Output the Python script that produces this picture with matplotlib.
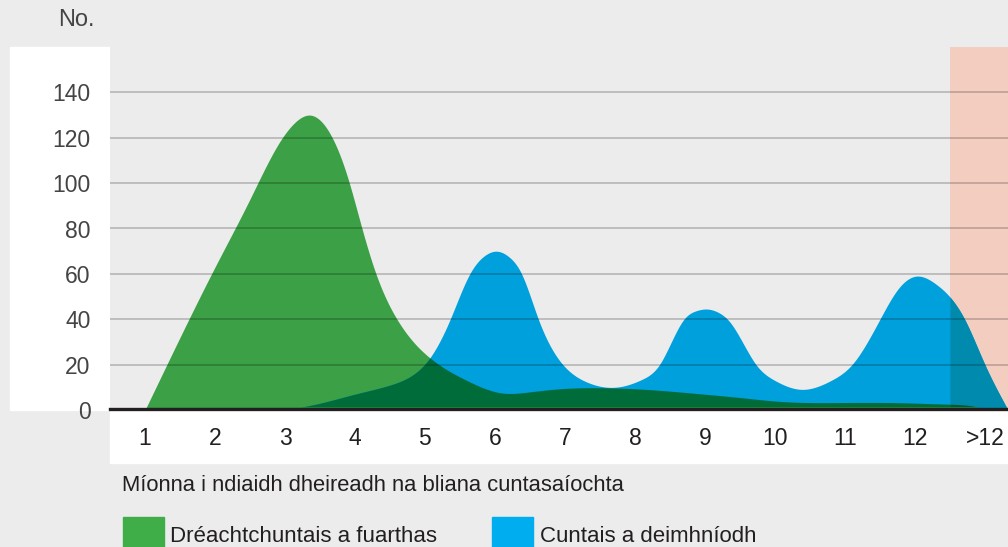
import matplotlib.pyplot as plt
from matplotlib.patches import Rectangle
import numpy as np

# values (month, count)
green_months = [1.0, 1.5, 2.0, 2.5, 2.9, 3.15, 3.35, 3.6, 3.9, 4.1, 4.3, 4.6,
                5.07, 5.6, 6.1, 6.5, 7.0, 7.5, 8.2, 8.8, 9.5, 10.07, 11.0, 11.8,
                12.45, 12.85, 13.05]
green_vals = [0, 32, 63, 93, 117, 127, 130, 124, 102, 80, 60, 40,
              23, 13, 7.5, 8, 9.5, 9.8, 9, 7.5, 5.5, 3.8, 3.3, 3.2,
              2.6, 1.6, 0]

blue_months = [3.0, 3.5, 4.0, 4.5, 4.8, 5.07, 5.36, 5.64, 5.85, 6.02, 6.2, 6.38,
               6.62, 6.97, 7.3, 7.7, 8.1, 8.35, 8.7, 8.88, 9.03, 9.18, 9.35, 9.73,
               10.0, 10.38, 10.8, 11.1, 11.5, 11.75, 12.02, 12.3, 12.45, 12.71,
               13.0, 13.33]
blue_vals = [0, 3, 7, 11, 15, 23, 40, 60, 68, 70, 67.5, 60,
             40, 20, 12.5, 10, 13.5, 20, 40, 43.8, 44.5, 43.2, 39, 20,
             13, 9.1, 13, 20, 40, 53, 59, 55.5, 51.5, 40,
             20, 0]

tick_pos = list(range(1, 14))
tick_labels = [str(i) for i in range(1, 13)] + ['>12']
yticks = [0, 20, 40, 60, 80, 100, 120, 140]

bg = '#ececec'
green = '#3ca046'
blue = '#00a0dc'
dark = '#006c3a'
pink = '#f3cec0'


def spline(xk, yk, x):
    # natural cubic spline through the read points
    xk = np.asarray(xk, float)
    yk = np.asarray(yk, float)
    n = len(xk)
    h = np.diff(xk)
    A = np.zeros((n, n))
    r = np.zeros(n)
    A[0, 0] = A[-1, -1] = 1
    for i in range(1, n - 1):
        A[i, i - 1] = h[i - 1]
        A[i, i] = 2 * (h[i - 1] + h[i])
        A[i, i + 1] = h[i]
        r[i] = 3 * ((yk[i + 1] - yk[i]) / h[i] - (yk[i] - yk[i - 1]) / h[i - 1])
    c = np.linalg.solve(A, r)
    b = np.diff(yk) / h - h * (2 * c[:-1] + c[1:]) / 3
    d = np.diff(c) / (3 * h)
    out = np.zeros_like(x)
    inside = (x >= xk[0]) & (x <= xk[-1])
    xi = x[inside]
    i = np.clip(np.searchsorted(xk, xi) - 1, 0, n - 2)
    dx = xi - xk[i]
    out[inside] = yk[i] + b[i] * dx + c[i] * dx**2 + d[i] * dx**3
    return np.maximum(out, 0)


xs = np.sort(np.append(np.linspace(0.5, 13.33, 2000), 12.5))
g = spline(green_months, green_vals, xs)
b = spline(blue_months, blue_vals, xs)
both = np.minimum(g, b)

plt.rcParams['font.family'] = ['Liberation Sans', 'DejaVu Sans']

fig = plt.figure(figsize=(10.08, 5.47), dpi=100, facecolor=bg)
W, H = 1008, 547


def fx(px):
    return px / W


def fy(py):
    return (H - py) / H


# white strips behind tick labels
fig.add_artist(Rectangle((fx(10), fy(410)), fx(100), fy(47) - fy(410),
                         transform=fig.transFigure, color='white', zorder=-5))
fig.add_artist(Rectangle((fx(110), fy(463)), fx(898), fy(410) - fy(463),
                         transform=fig.transFigure, color='white', zorder=-5))

ax = fig.add_axes([fx(110), fy(410), 1 - fx(110), fy(47) - fy(410)])
ax.set_facecolor(bg)
ax.set_xlim(0.5, 13.33)
ax.set_ylim(0, 160)

ax.axvspan(12.5, 13.4, color=pink, lw=0, zorder=0.5)
ax.fill_between(xs, 0, g, color=green, lw=0, zorder=2)
ax.fill_between(xs, 0, b, color=blue, lw=0, zorder=3)
ax.fill_between(xs, 0, both, color=dark, lw=0, zorder=4)
right = xs >= 12.5
ax.fill_between(xs, 0, b, where=right, color='#008bae', lw=0, zorder=5)
ax.fill_between(xs, 0, both, where=right, color='#005a33', lw=0, zorder=6)
base = (xs >= 1.05) & (xs <= 12.9)
ax.plot(xs[base], np.full(base.sum(), 0.9), color='#2f9a3e', lw=1, zorder=7)

for yv in yticks[1:]:
    ax.axhline(yv, color='black', alpha=0.25, lw=1.1, zorder=8)
ax.axhline(0, color='#999999', lw=1.2, zorder=9, clip_on=False)
ax.axhline(0.4, color='#231f20', lw=2.4, zorder=10, clip_on=False)

for s in ax.spines.values():
    s.set_visible(False)

ax.set_yticks(yticks)
ax.set_yticklabels([str(v) for v in yticks], fontsize=16.5, color='#444444',
                   family=['Liberation Sans Narrow', 'Liberation Sans', 'DejaVu Sans'])
ax.set_xticks(tick_pos)
ax.set_xticklabels(tick_labels, fontsize=16.5, color='#231f20',
                   family=['Liberation Sans Narrow', 'Liberation Sans', 'DejaVu Sans'])
ax.tick_params(axis='y', length=0, pad=14)
ax.tick_params(axis='x', length=0, pad=12)

fig.text(fx(95), fy(26), 'No.', ha='right', va='baseline', fontsize=17, color='#444444')
fig.text(fx(122), fy(491), 'Míonna i ndiaidh dheireadh na bliana cuntasaíochta',
         ha='left', va='baseline', fontsize=15.8, color='#231f20')

fig.add_artist(Rectangle((fx(123), fy(560)), fx(41), fy(517) - fy(560),
                         transform=fig.transFigure, color='#3fae49', zorder=5))
fig.text(fx(170), fy(542), 'Dréachtchuntais a fuarthas', ha='left', va='baseline',
         fontsize=16, color='#231f20')
fig.add_artist(Rectangle((fx(492), fy(560)), fx(41), fy(517) - fy(560),
                         transform=fig.transFigure, color='#00aeef', zorder=5))
fig.text(fx(540), fy(542), 'Cuntais a deimhníodh', ha='left', va='baseline',
         fontsize=16, color='#231f20')

fig.savefig('out.png', dpi=100, facecolor=bg)
